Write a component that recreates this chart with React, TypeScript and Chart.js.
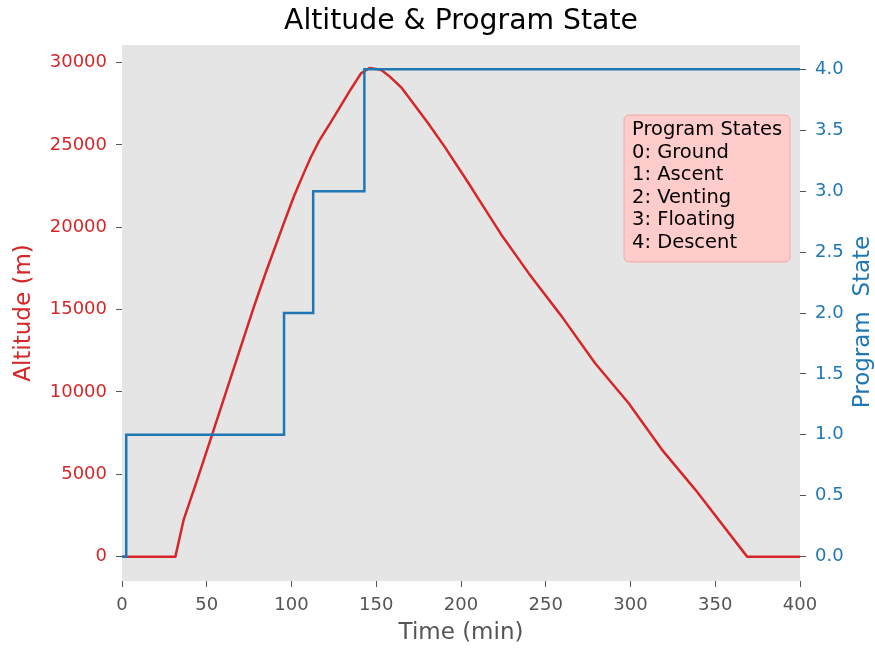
import { useEffect, useRef } from 'react';
import { Chart, registerables } from 'chart.js';

Chart.register(...registerables);

// Altitude series (time in minutes, altitude in metres)
const altTimes = [0, 31.5, 36.4, 44.4, 52.2, 68.2, 77.9, 85, 95.6, 101.5, 107.5, 111.4, 116.3, 123.3, 129.2, 135.1, 141, 146, 152.8, 158, 164.7, 172, 180.5, 190.3, 204, 212, 223.8, 240, 259.4, 279, 298.8, 318.5, 338.2, 368.8, 400];
const altitudes = [0, 0, 2250, 4675, 7100, 12140, 15200, 17300, 20280, 21900, 23350, 24250, 25250, 26400, 27400, 28400, 29350, 29670, 29570, 29150, 28500, 27500, 26330, 24900, 22750, 21450, 19550, 17200, 14590, 11760, 9330, 6500, 4070, 0, 0];

// Program state series (step changes)
const stateTimes = [0, 2.5, 95.6, 112.8, 143, 400];
const states = [0, 1, 2, 3, 4, 4];

// Tick labels
const xTicks = [0, 50, 100, 150, 200, 250, 300, 350, 400];
const altTicks = [0, 5000, 10000, 15000, 20000, 25000, 30000];
const stateTicks = [0, 0.5, 1, 1.5, 2, 2.5, 3, 3.5, 4];

const legendLines = ['Program States', '0: Ground', '1: Ascent', '2: Venting', '3: Floating', '4: Descent'];
const chartTitle = 'Altitude & Program State';
const rightTitle = 'Program  State';

const RED = '#d62728';
const BLUE = '#1f77b4';
const GREY = '#555555';
const FONT = "'DejaVu Sans', sans-serif";

const bgPlugin = {
  id: 'bgPlugin',
  beforeDraw(chart: any) {
    const { ctx, chartArea } = chart;
    ctx.save();
    ctx.fillStyle = '#ffffff';
    ctx.fillRect(0, 0, chart.width, chart.height);
    ctx.fillStyle = '#E5E5E5';
    ctx.fillRect(chartArea.left, chartArea.top, chartArea.right - chartArea.left, chartArea.bottom - chartArea.top);
    ctx.restore();
  },
};

const overlayPlugin = {
  id: 'overlayPlugin',
  afterDraw(chart: any) {
    const { ctx, chartArea } = chart;
    ctx.save();
    // title
    ctx.fillStyle = '#000000';
    ctx.font = `28.3px ${FONT}`;
    ctx.textAlign = 'center';
    ctx.textBaseline = 'alphabetic';
    ctx.fillText(chartTitle, (chartArea.left + chartArea.right) / 2, 29);

    // right axis title, rotated to read bottom-to-top
    ctx.save();
    ctx.translate(chartArea.right + 63, (chartArea.top + chartArea.bottom) / 2 + 9);
    ctx.rotate(-Math.PI / 2);
    ctx.fillStyle = BLUE;
    ctx.font = `23px ${FONT}`;
    ctx.textAlign = 'center';
    ctx.textBaseline = 'middle';
    ctx.fillText(rightTitle, 0, 0);
    ctx.restore();

    // annotation box
    const bx = chartArea.left + 502;
    const by = chartArea.top + 70;
    const bw = 166;
    const bh = 147;
    const r = 5;
    ctx.beginPath();
    ctx.moveTo(bx + r, by);
    ctx.lineTo(bx + bw - r, by);
    ctx.arcTo(bx + bw, by, bx + bw, by + r, r);
    ctx.lineTo(bx + bw, by + bh - r);
    ctx.arcTo(bx + bw, by + bh, bx + bw - r, by + bh, r);
    ctx.lineTo(bx + r, by + bh);
    ctx.arcTo(bx, by + bh, bx, by + bh - r, r);
    ctx.lineTo(bx, by + r);
    ctx.arcTo(bx, by, bx + r, by, r);
    ctx.closePath();
    ctx.fillStyle = '#FFCCCC';
    ctx.fill();
    ctx.strokeStyle = '#F4A6A6';
    ctx.lineWidth = 1;
    ctx.stroke();

    ctx.fillStyle = '#000000';
    ctx.font = `19.5px ${FONT}`;
    ctx.textAlign = 'left';
    ctx.textBaseline = 'middle';
    legendLines.forEach((line, i) => {
      ctx.fillText(line, bx + 8, by + 15 + i * 22.6);
    });
    ctx.restore();
  },
};

export default function App() {
  const canvasRef = useRef<HTMLCanvasElement | null>(null);

  useEffect(() => {
    document.body.style.margin = '0';
    const canvas = canvasRef.current;
    if (!canvas) return;

    const altData = altTimes.map((t, i) => ({ x: t, y: altitudes[i] }));
    const stateData = stateTimes.map((t, i) => ({ x: t, y: states[i] }));

    const tickFont = { family: FONT, size: 18 };
    const titleFont = { family: FONT, size: 23 };

    const chart = new Chart(canvas, {
      type: 'line',
      data: {
        datasets: [
          {
            label: 'Program State',
            data: stateData,
            yAxisID: 'y1',
            borderColor: BLUE,
            backgroundColor: BLUE,
            borderWidth: 2.5,
            pointRadius: 0,
            stepped: 'before',
            fill: false,
          },
          {
            label: 'Altitude',
            data: altData,
            yAxisID: 'y',
            borderColor: RED,
            backgroundColor: RED,
            borderWidth: 2.5,
            pointRadius: 0,
            tension: 0,
            borderJoinStyle: 'round',
            fill: false,
          },
        ],
      },
      options: {
        animation: false,
        responsive: false,
        devicePixelRatio: 1,
        layout: { padding: { top: 45, left: 0, right: 0, bottom: 0 } },
        plugins: {
          legend: { display: false },
          tooltip: { enabled: false },
          title: { display: false },
        },
        scales: {
          x: {
            type: 'linear',
            min: 0,
            max: 400,
            afterBuildTicks: (s: any) => {
              s.ticks = xTicks.map((v) => ({ value: v }));
            },
            afterFit: (s: any) => {
              s.height = 67;
            },
            grid: { display: true, drawOnChartArea: false, drawTicks: true, tickLength: 6, color: GREY, lineWidth: 1 },
            border: { display: false },
            ticks: { color: GREY, font: tickFont, padding: 8, autoSkip: false, maxRotation: 0 },
            title: { display: true, text: 'Time (min)', color: GREY, font: titleFont, padding: { top: 0, bottom: 1 } },
          },
          y: {
            type: 'linear',
            position: 'left',
            min: -1480,
            max: 31070,
            afterBuildTicks: (s: any) => {
              s.ticks = altTicks.map((v) => ({ value: v }));
            },
            afterFit: (s: any) => {
              s.width = 122;
            },
            grid: { display: true, drawOnChartArea: false, drawTicks: true, tickLength: 6, color: GREY, lineWidth: 1 },
            border: { display: false },
            ticks: { color: RED, font: tickFont, padding: 9, autoSkip: false, callback: (v: any) => String(v) },
            title: { display: true, text: 'Altitude (m)', color: RED, font: titleFont, padding: { top: 10, bottom: 0 } },
          },
          y1: {
            type: 'linear',
            position: 'right',
            min: -0.2,
            max: 4.2,
            afterBuildTicks: (s: any) => {
              s.ticks = stateTicks.map((v) => ({ value: v }));
            },
            afterFit: (s: any) => {
              s.width = 75;
            },
            grid: { display: true, drawOnChartArea: false, drawTicks: true, tickLength: 6, color: GREY, lineWidth: 1 },
            border: { display: false },
            ticks: { color: BLUE, font: tickFont, padding: 9, autoSkip: false, callback: (v: any) => Number(v).toFixed(1) },
            title: { display: false },
          },
        },
      },
      plugins: [bgPlugin, overlayPlugin],
    } as any);

    return () => {
      chart.destroy();
    };
  }, []);

  return (
    <div style={{ width: 875, height: 648 }}>
      <canvas ref={canvasRef} width={875} height={648} style={{ display: 'block' }} />
    </div>
  );
}
